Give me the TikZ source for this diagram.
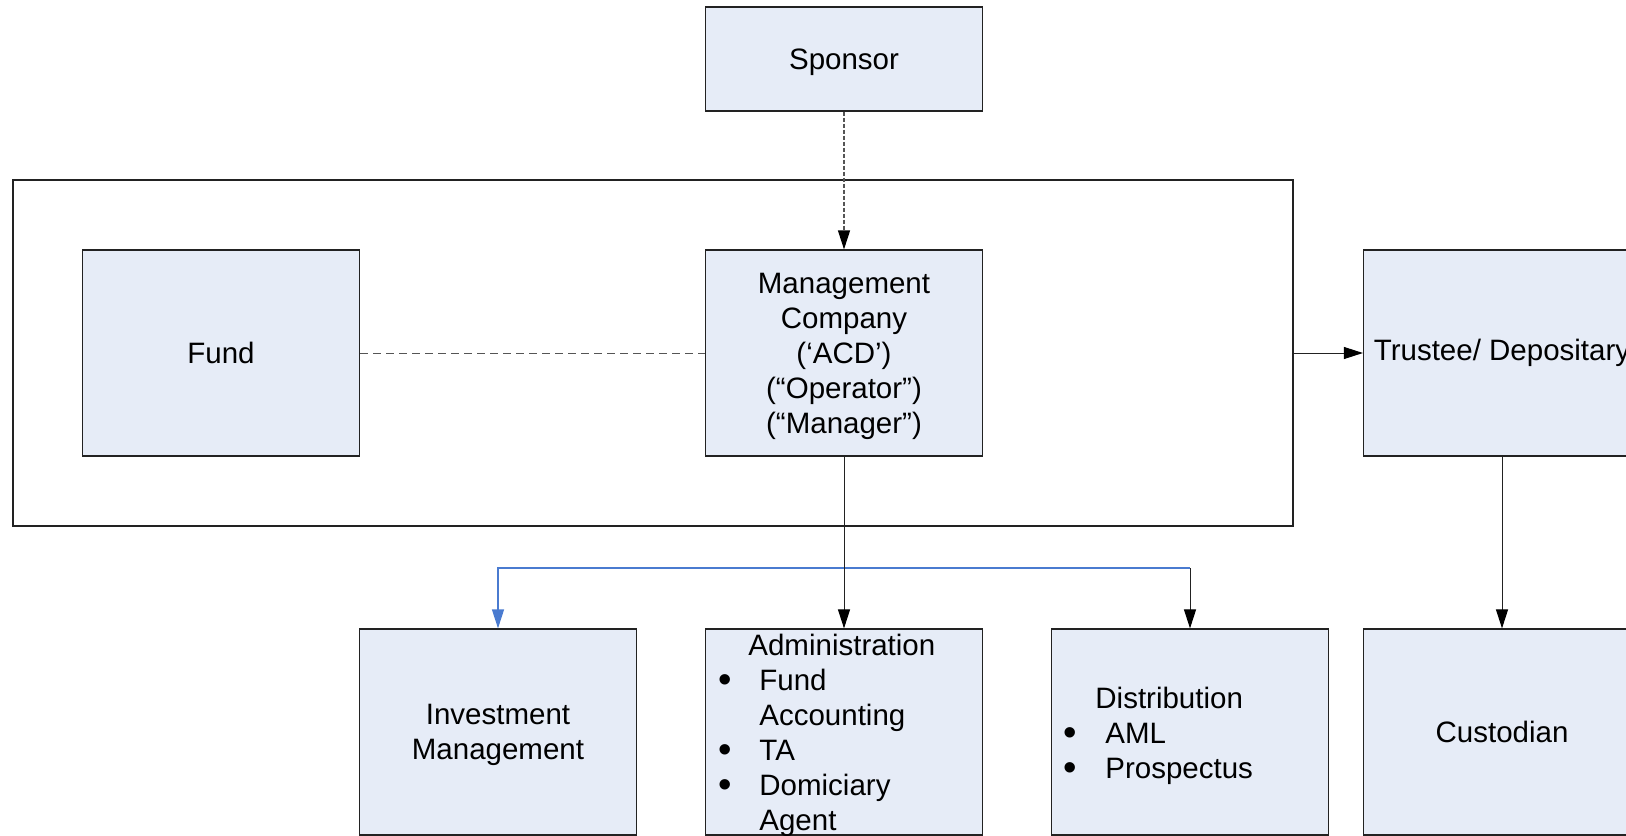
\documentclass[tikz,border=0pt]{standalone}
\usepackage{fontspec}
\usepackage{graphicx}
\setmainfont{Liberation Sans}
\usetikzlibrary{arrows.meta}
\definecolor{boxfill}{HTML}{E6ECF7}
\definecolor{boxline}{HTML}{222222}
\definecolor{dashgrey}{HTML}{555555}
\definecolor{linkblue}{HTML}{4A7BD0}
\tikzset{
  entity/.style={draw=boxline, line width=0.6pt, fill=boxfill, minimum width=138.5pt, minimum height=103pt, inner sep=0pt, align=center},
  lbl/.style={inner sep=0pt, anchor=base west},
  tip/.style={-{Triangle[length=9.5pt,width=6pt,color=black]}},
  bluetip/.style={-{Triangle[length=9.5pt,width=6pt]}},
  conn/.style={draw=boxline, line width=0.5pt},
  shortdash/.style={draw=dashgrey, line width=0.6pt, dash pattern=on 2pt off 1pt},
  longdash/.style={draw=dashgrey, line width=0.5pt, dash pattern=on 4pt off 2.5pt},
  bluelink/.style={draw=linkblue, line width=0.6pt}
}
\newcommand{\bul}[1]{\makebox[#1][l]{\raisebox{-0.09em}{\scalebox{1.3}{\textbullet}}}}
\newcommand{\lines}[1]{\vtop{\baselineskip=17.5pt\lineskiplimit=-10pt #1}}
\begin{document}
\begin{tikzpicture}[x=0.5pt,y=-0.5pt, font=\fontsize{14.75pt}{17.5pt}\selectfont]
\useasboundingbox (0,0) rectangle (1626,835);
\clip (0,0) rectangle (1626,835);
% outer frame
\node[draw=boxline, line width=0.6pt, minimum width=640pt, minimum height=173pt, inner sep=0pt] (outer) at (653,353) {};
% boxes
\node[entity, minimum height=52pt, text depth=0pt] (sponsor) at (844,59) {Sponsor};
\node[entity] (fund) at (221,353) {Fund};
\node[entity, text depth=0pt] (mgmt) at (844,353) {Management\\Company\\(‘ACD’)\\(“Operator”)\\(“Manager”)};
\node[entity] (trustee) at (1502,353) {Trustee/ Depositary};
\node[entity, text depth=0pt] (inv) at (498,732) {Investment\\Management};
\node[entity] (admin) at (844,732) {};
\node[entity] (dist) at (1190,732) {};
\node[entity] (cust) at (1502,732) {Custodian};
% admin text
\node[lbl] (admintext) at (718,655) {\lines{\hbox{\hspace*{15pt}Administration}\hbox{\bul{20.5pt}Fund}\hbox{\hspace*{20.5pt}Accounting}\hbox{\bul{20.5pt}TA}\hbox{\bul{20.5pt}Domiciary}\hbox{\hspace*{20.5pt}Agent}}};
\node[lbl] (disttext) at (1063,708) {\lines{\hbox{\hspace*{16pt}Distribution}\hbox{\bul{21pt}AML}\hbox{\bul{21pt}Prospectus}}};
% connectors
\draw[shortdash, tip] (sponsor.south) -- (mgmt.north);
\draw[longdash] (fund.east) -- (mgmt.west);
\draw[conn, tip] (outer.east |- trustee.west) -- (trustee.west);
\draw[conn, tip] (trustee.south) -- (cust.north);
\coordinate (split) at (844,568);
\coordinate (bj) at (1190,568);
\draw[bluelink, bluetip] (bj) -| (inv.north);
\draw[conn, tip] (bj) -- (dist.north);
\draw[conn, tip] (mgmt.south) -- (admin.north);
\end{tikzpicture}
\end{document}
